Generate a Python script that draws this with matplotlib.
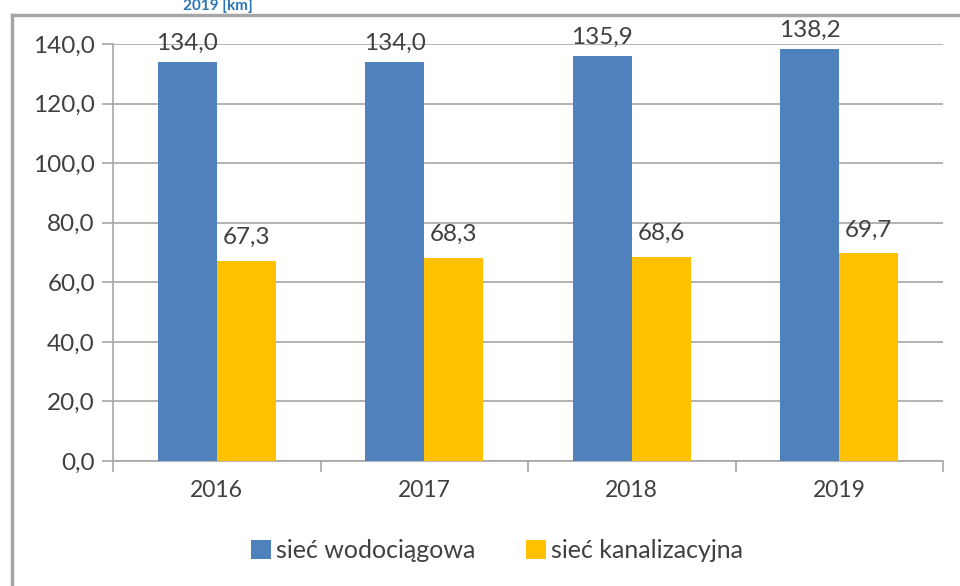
import matplotlib
matplotlib.use("Agg")
import matplotlib.pyplot as plt
import numpy as np

years = ["2016", "2017", "2018", "2019"]
water = [134.0, 134.0, 135.9, 138.2]
sewer = [67.3, 68.3, 68.6, 69.7]
series_names = ["sieć wodociągowa", "sieć kanalizacyjna"]
yticks = [0, 20, 40, 60, 80, 100, 120, 140]

plt.rcParams['font.family'] = ['Lato', 'DejaVu Sans']
TXT = '#404040'
BLUE = '#4F81BD'
YEL = '#FFC000'
GRID = '#A6A6A6'

fig = plt.figure(figsize=(9.6, 5.86), dpi=100)

# outer chart frame: an empty axes whose left and top spines form the border
fx = 12/960
fy = 1 - 15/586
frame = fig.add_axes([fx, 0.0, 1.0 - fx, fy], zorder=-1)
frame.set_facecolor('none')
frame.set_xticks([])
frame.set_yticks([])
for s in ['right', 'bottom']:
    frame.spines[s].set_visible(False)
for s in ['left', 'top']:
    frame.spines[s].set_color('#A6A6A6')
    frame.spines[s].set_linewidth(2.5)

ax = fig.add_axes([113/960, 1-461/586, (943-113)/960, (461-44)/586])

x = np.arange(len(years))
w = 0.285
ax.bar(x - w/2, water, width=w, color=BLUE, label=series_names[0], zorder=3)
ax.bar(x + w/2, sewer, width=w, color=YEL, label=series_names[1], zorder=3)

for xi, v in zip(x, water):
    ax.annotate(f"{v:.1f}".replace('.', ','), (xi - w/2, v), xytext=(0, 6),
                textcoords='offset points', ha='center', va='bottom',
                fontsize=17.5, color=TXT)
for xi, v in zip(x, sewer):
    ax.annotate(f"{v:.1f}".replace('.', ','), (xi + w/2, v), xytext=(0, 9),
                textcoords='offset points', ha='center', va='bottom',
                fontsize=17.5, color=TXT)

ax.set_xlim(-0.5, len(years) - 0.5)
ax.set_ylim(0, 140)
ax.set_yticks(yticks)
ax.set_yticklabels([f"{t:.1f}".replace('.', ',') for t in yticks], fontsize=17.5, color=TXT)
ax.set_xticks(x)
ax.set_xticklabels(years, fontsize=16.5, color=TXT)
ax.tick_params(axis='x', length=0, pad=14)
ax.tick_params(axis='y', length=8, color=GRID, width=1.2, pad=5)
ax.set_xticks(np.arange(-0.5, len(years), 1.0), minor=True)
ax.tick_params(axis='x', which='minor', length=8, color=GRID, width=1.2)
ax.grid(axis='y', color=GRID, linewidth=1.2, zorder=0)
for s in ['top', 'right']:
    ax.spines[s].set_visible(False)
ax.spines['left'].set_color(GRID)
ax.spines['left'].set_linewidth(1.2)
ax.spines['bottom'].set_color(GRID)
ax.spines['bottom'].set_linewidth(1.2)

leg = fig.legend(loc='center', bbox_to_anchor=(497/960, 1-551/586), ncol=2, frameon=False,
                 fontsize=18, handlelength=0.8, handleheight=0.8, handletextpad=0.2,
                 columnspacing=2.0)
for t in leg.get_texts():
    t.set_color(TXT)

# title fragment visible above the frame
fig.text(218/960, 1-6/586, "2019 [km]", ha='center', va='center', fontsize=11,
         fontweight='bold', color='#2E75B6')

fig.savefig("out.png", dpi=100)
